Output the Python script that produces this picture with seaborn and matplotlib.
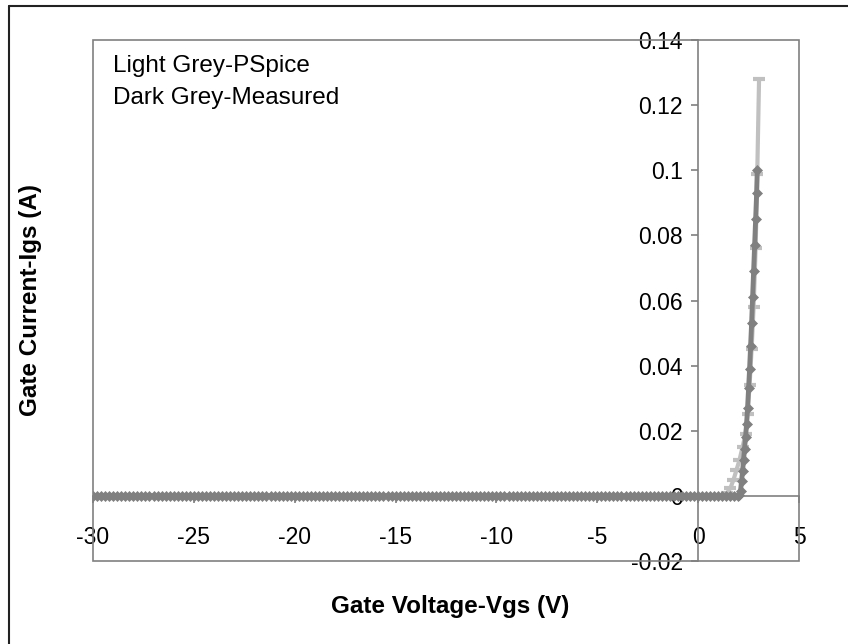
import numpy as np
import pandas as pd
import matplotlib
matplotlib.use("Agg")
import matplotlib.pyplot as plt
import seaborn as sns
from matplotlib.patches import Rectangle
from matplotlib.lines import Line2D

# ---------------- data ----------------
# PSpice simulation (light grey): flat at zero, then rising past ~1.3 V
pspice_flat_vgs = np.arange(-30.0, 1.3, 0.25)          # sweep grid, current reads 0
pspice_rise_vgs = [1.3, 1.45, 1.6, 1.75, 1.9, 2.05, 2.2, 2.35, 2.45, 2.55,
                   2.65, 2.75, 2.85, 2.93, 3.02]
pspice_rise_igs = [0.0, 0.001, 0.0024, 0.0049, 0.008, 0.011, 0.015, 0.019,
                   0.025, 0.034, 0.045, 0.058, 0.076, 0.099, 0.128]

# Measured (dark grey): flat at zero, knee around 2.1 V, stops at 0.1 A
meas_flat_vgs = np.arange(-30.0, 2.0, 0.2)             # sweep grid, current reads 0
meas_rise_vgs = [2.0, 2.05, 2.1, 2.15, 2.2, 2.25, 2.3, 2.35, 2.4, 2.45, 2.5,
                 2.55, 2.6, 2.65, 2.7, 2.75, 2.8, 2.85, 2.9, 2.93]
meas_rise_igs = [0.0, 0.0003, 0.0015, 0.0045, 0.0075, 0.011, 0.0145, 0.018,
                 0.022, 0.027, 0.033, 0.039, 0.046, 0.053, 0.061, 0.069,
                 0.077, 0.085, 0.093, 0.1]

x_ticks = [-30, -25, -20, -15, -10, -5, 0, 5]
y_ticks = [-0.02, 0, 0.02, 0.04, 0.06, 0.08, 0.1, 0.12, 0.14]

pspice = pd.DataFrame({
    "Vgs": np.concatenate([pspice_flat_vgs, pspice_rise_vgs]),
    "Igs": np.concatenate([np.zeros(len(pspice_flat_vgs)), pspice_rise_igs]),
})
meas = pd.DataFrame({
    "Vgs": np.concatenate([meas_flat_vgs, meas_rise_vgs]),
    "Igs": np.concatenate([np.zeros(len(meas_flat_vgs)), meas_rise_igs]),
})

# ---------------- plot ----------------
sns.set_style("white")
plt.rcParams["font.family"] = ["Liberation Sans", "DejaVu Sans"]
plt.rcParams["text.color"] = "black"
plt.rcParams["xtick.color"] = "black"
plt.rcParams["ytick.color"] = "black"

W, H = 848, 644
fig = plt.figure(figsize=(W / 100, H / 100), dpi=100)
L, R, T, B = 93, 799, 40, 561
ax = fig.add_axes([L / W, 1 - B / H, (R - L) / W, (B - T) / H])

light = "#c0c0c0"
dark = "#808080"

sns.lineplot(data=pspice, x="Vgs", y="Igs", ax=ax, color=light, lw=3,
             marker="_", markersize=8, markeredgewidth=3,
             markeredgecolor=light, estimator=None, sort=False, zorder=3)
sns.lineplot(data=meas, x="Vgs", y="Igs", ax=ax, color=dark, lw=3.5,
             marker="D", markersize=5.5, markeredgewidth=0.5,
             markeredgecolor=dark, markerfacecolor=dark,
             estimator=None, sort=False, zorder=4)

ax.set_xlim(-30, 5)
ax.set_ylim(-0.02, 0.14)
ax.set_xlabel("")
ax.set_ylabel("")

# axes crossing at zero
for s in ["top", "right"]:
    ax.spines[s].set_visible(False)
ax.spines["left"].set_position(("data", 0))
ax.spines["bottom"].set_position(("data", 0))
for s in ["left", "bottom"]:
    ax.spines[s].set_color(dark)
    ax.spines[s].set_linewidth(1.2)
    ax.spines[s].set_zorder(2)

# plot-area box
ax.add_patch(Rectangle((0, 0), 1, 1, transform=ax.transAxes, fill=False,
                       edgecolor=dark, lw=1.2, clip_on=False, zorder=1))

ax.set_xticks(x_ticks)
ax.set_xticklabels([f"{v:g}" for v in x_ticks])
ax.set_yticks(y_ticks)
ax.set_yticklabels([f"{v:g}" for v in y_ticks])
ax.tick_params(axis="x", direction="out", length=5, width=1.2, color=dark,
               labelcolor="black", pad=17, labelsize=16.5, bottom=True)
ax.tick_params(axis="y", direction="out", length=5, width=1.2, color=dark,
               labelcolor="black", pad=6, labelsize=16.5, left=True)
for lab in ax.get_xticklabels() + ax.get_yticklabels():
    lab.set_zorder(5)

fig.text(113 / W, 1 - 66 / H, "Light Grey-PSpice", fontsize=17.5,
         ha="left", va="center", color="black")
fig.text(113 / W, 1 - 98 / H, "Dark Grey-Measured", fontsize=17.5,
         ha="left", va="center", color="black")

fig.text((L + R) / 2 / W + 4 / W, 1 - 607 / H, "Gate Voltage-Vgs (V)", fontsize=17.5,
         fontweight="bold", ha="center", va="center", color="black")
fig.text(31 / W, 1 - (T + B) / 2 / H, "Gate Current-Igs (A)", fontsize=17.5,
         fontweight="bold", ha="center", va="center", rotation=90, color="black")

# outer chart border (left and top edges visible)
fig.add_artist(Line2D([9 / W, 9 / W], [0, 1 - 6 / H], transform=fig.transFigure,
                      color="#222222", lw=1.5))
fig.add_artist(Line2D([9 / W, 1], [1 - 6 / H, 1 - 6 / H], transform=fig.transFigure,
                      color="#222222", lw=1.5))

fig.savefig("out.png", dpi=100, facecolor="white")
